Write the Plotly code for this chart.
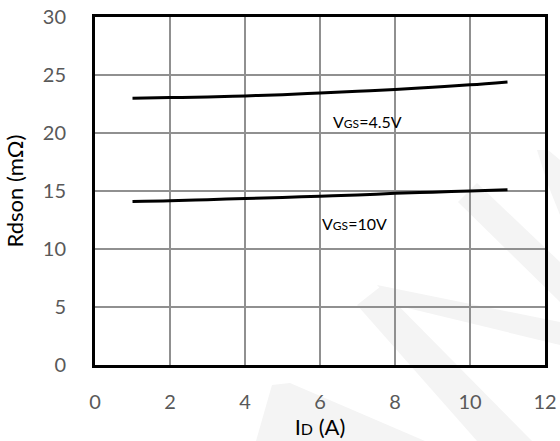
import plotly.graph_objects as go

# Data
id_a = [1, 2, 3, 4, 5, 6, 7, 8, 9, 10, 11]
rds_45v = [23.0, 23.05, 23.1, 23.2, 23.3, 23.45, 23.6, 23.75, 23.95, 24.15, 24.4]
rds_10v = [14.1, 14.15, 14.25, 14.35, 14.45, 14.55, 14.65, 14.8, 14.9, 15.0, 15.1]
x_ticks = [0, 2, 4, 6, 8, 10, 12]
y_ticks = [0, 5, 10, 15, 20, 25, 30]
labels = [("V<span style='font-size:12px'>GS</span>=4.5V", 6.3, 21.0),
          ("V<span style='font-size:12px'>GS</span>=10V", 6.0, 12.2)]

FONT = "Lato, 'Open Sans', sans-serif"
W, H = 560, 441
L, R, T, B = 95, 15, 17, 76
PW, PH = W - L - R, H - T - B


def pp(px, py):
    return (px - L) / PW, (H - B - py) / PH


def path(pts):
    s = ""
    for i, (px, py) in enumerate(pts):
        x, y = pp(px, py)
        s += ("M" if i == 0 else "L") + f"{x:.4f},{y:.4f} "
    return s + "Z"


# light watermark polygons (pixel positions, decorative)
wm = [
    [(272, 385), (290, 383), (425, 441), (256, 441)],
    [(357, 305), (380, 287), (532, 441), (477, 441)],
    [(377, 285), (560, 322), (560, 345), (395, 305)],
    [(477, 183), (560, 262), (560, 302), (458, 202)],
    [(537, 150), (548, 150), (560, 160), (560, 215), (548, 185)],
]

fig = go.Figure()
for ys in (rds_45v, rds_10v):
    fig.add_trace(go.Scatter(x=id_a, y=ys, mode="lines",
                             line=dict(color="black", width=3, shape="spline"),
                             showlegend=False, hoverinfo="skip"))

shapes = [dict(type="path", xref="paper", yref="paper", path=path(p),
               fillcolor="#f4f4f4", line=dict(width=0), layer="below") for p in wm]

annotations = [dict(x=x, y=y, text=t, showarrow=False, xanchor="left", yanchor="middle",
                    font=dict(family=FONT, size=16, color="black")) for t, x, y in labels]

fig.update_layout(
    width=W, height=H,
    margin=dict(l=L, r=R, t=T, b=B),
    paper_bgcolor="white", plot_bgcolor="rgba(0,0,0,0)",
    font=dict(family=FONT),
    shapes=shapes, annotations=annotations,
    xaxis=dict(range=[0, 12], tickvals=x_ticks, showgrid=True, gridcolor="#909090", gridwidth=1.5,
               showline=True, linecolor="black", linewidth=3, mirror=True, zeroline=False,
               ticks="", ticklabelstandoff=17, automargin=False,
               tickfont=dict(family=FONT, size=20, color="#595959"),
               title=dict(text="I<span style='font-size:16px'>D</span> (A)", standoff=0,
                          font=dict(family=FONT, size=22, color="black"))),
    yaxis=dict(range=[0, 30], tickvals=y_ticks, showgrid=True, gridcolor="#909090", gridwidth=1.5,
               showline=True, linecolor="black", linewidth=3, mirror=True, zeroline=False,
               ticks="", ticklabelstandoff=22, automargin=False,
               tickfont=dict(family=FONT, size=20, color="#595959"),
               title=dict(text="Rdson (mΩ)", standoff=14,
                          font=dict(family=FONT, size=22, color="black"))),
)

fig.write_html("out.html", config={"displayModeBar": False},
               post_script="document.body.style.margin='0';document.body.style.overflow='hidden';")
